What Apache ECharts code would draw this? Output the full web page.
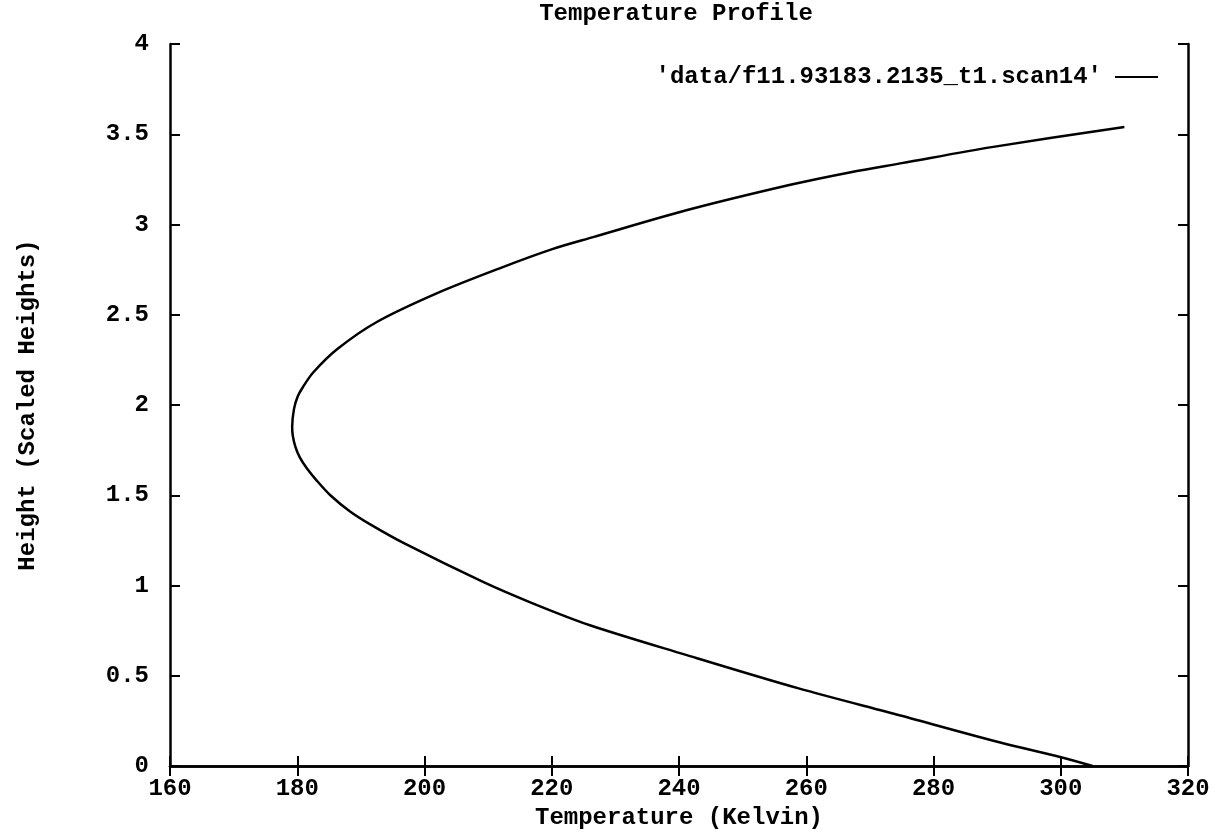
<!DOCTYPE html>
<html>
<head>
<meta charset="utf-8">
<script src="https://cdn.jsdelivr.net/npm/echarts@6/dist/echarts.min.js"></script>
<style>
    html, body { margin: 0; padding: 0; background: #fff; }
    #chart { width: 1222px; height: 835px; }
</style>
</head>
<body>
<div id="chart"></div>
<script>
// temperature (K) and height (scaled heights), read along the curve from top end to bottom end
var temperature = [310, 289.4, 275, 267, 257.5, 241.3, 226.5, 220.2, 212, 202, 192.5, 186.3, 182.5, 180.9,
    180.1, 179.5, 179.2, 179.3, 179.7, 180.4, 181.5, 183.1, 185.2, 188.3, 191.4, 197, 209.2, 217.1,
    226, 240.7, 258.8, 274.8, 290.5, 299.9, 305];
var height = [3.54, 3.43, 3.34, 3.29, 3.22, 3.08, 2.93, 2.865, 2.76, 2.62, 2.46, 2.31, 2.18, 2.10,
    2.05, 1.98, 1.88, 1.83, 1.77, 1.71, 1.65, 1.58, 1.50, 1.41, 1.34, 1.23, 1.02, 0.90,
    0.78, 0.62, 0.43, 0.28, 0.13, 0.05, 0];

var seriesName = "'data/f11.93183.2135_t1.scan14'";

(function() {
    drawChart();
})();

function drawChart() {
    var chart = echarts.init(document.getElementById('chart'));

    var points = [];
    for (var i = 0; i < temperature.length; i++) {
        points.push([temperature[i], height[i]]);
    }

    var font = 'Liberation Mono';
    var fontSize = 24;
    var text = { color: '#000', fontFamily: font, fontWeight: 'bold', fontSize: fontSize };
    var frame = { show: true, lineStyle: { color: '#000', width: 2.5 } };
    var ticks = { show: true, inside: true, length: 10, lineStyle: { color: '#000', width: 2 } };

    var option = {
        backgroundColor: '#fff',
        animation: false,
        title: {
            text: 'Temperature Profile',
            left: 676,
            textAlign: 'center',
            top: 2,
            padding: 0,
            textStyle: text
        },
        legend: {
            right: 59,
            top: 60,
            align: 'right',
            icon: 'rect',
            itemWidth: 43,
            itemHeight: 2,
            textStyle: Object.assign({ padding: [0, 8, 0, 0] }, text),
            data: [seriesName]
        },
        grid: {
            left: 170,
            right: 34,
            top: 44,
            bottom: 66
        },
        xAxis: [
            {
                type: 'value',
                min: 160,
                max: 320,
                interval: 20,
                position: 'bottom',
                name: 'Temperature (Kelvin)',
                nameLocation: 'middle',
                nameGap: 40,
                nameTextStyle: text,
                axisLine: frame,
                axisTick: ticks,
                axisLabel: Object.assign({ margin: 11 }, text),
                splitLine: { show: false }
            },
            {
                type: 'value',
                min: 160,
                max: 320,
                interval: 20,
                position: 'top',
                axisLine: frame,
                axisTick: ticks,
                axisLabel: { show: false },
                splitLine: { show: false }
            }
        ],
        yAxis: [
            {
                type: 'value',
                min: 0,
                max: 4,
                interval: 0.5,
                position: 'left',
                name: 'Height (Scaled Heights)',
                nameLocation: 'middle',
                nameGap: 130,
                nameTextStyle: text,
                axisLine: frame,
                axisTick: ticks,
                axisLabel: Object.assign({ margin: 21 }, text),
                splitLine: { show: false }
            },
            {
                type: 'value',
                min: 0,
                max: 4,
                interval: 0.5,
                position: 'right',
                axisLine: frame,
                axisTick: ticks,
                axisLabel: { show: false },
                splitLine: { show: false }
            }
        ],
        series: [
            {
                name: seriesName,
                type: 'line',
                xAxisIndex: 0,
                yAxisIndex: 0,
                smooth: 0.3,
                showSymbol: false,
                itemStyle: { color: '#000' },
                lineStyle: { color: '#000', width: 2.5 },
                data: points
            }
        ]
    };

    chart.setOption(option);
}
</script>
</body>
</html>
